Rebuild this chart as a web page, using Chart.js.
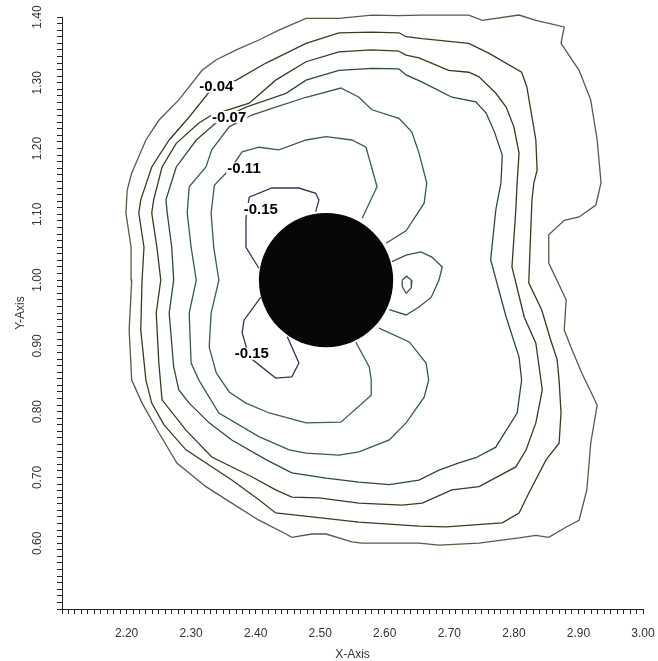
<!DOCTYPE html>
<html><head><meta charset="utf-8">
<script src="https://cdn.jsdelivr.net/npm/chart.js@4.4.1/dist/chart.umd.min.js"></script>
<style>html,body{margin:0;padding:0;background:#fff;}#wrap{width:658px;height:661px;}</style>
</head><body><div id="wrap"><canvas id="c" width="658" height="661"></canvas></div>
<script>
// Tick labels
const xTickLabels = ['2.20','2.30','2.40','2.50','2.60','2.70','2.80','2.90','3.00'];
const yTickLabels = ['0.60','0.70','0.80','0.90','1.00','1.10','1.20','1.30','1.40'];

// Contour lines [x, y] (outer -> inner)
const contourA = [[2.208,1.163],[2.230,1.213],[2.250,1.243],[2.281,1.274],[2.317,1.319],[2.339,1.335],[2.370,1.350],[2.405,1.365],[2.436,1.380],[2.478,1.398],[2.529,1.398],[2.580,1.403],[2.622,1.402],[2.658,1.403],[2.730,1.403],[2.751,1.395],[2.808,1.403],[2.834,1.395],[2.878,1.385],[2.873,1.360],[2.901,1.319],[2.919,1.274],[2.929,1.213],[2.935,1.148],[2.927,1.114],[2.901,1.096],[2.878,1.091],[2.854,1.069],[2.854,1.026],[2.881,0.970],[2.878,0.924],[2.890,0.894],[2.905,0.859],[2.929,0.810],[2.919,0.752],[2.913,0.681],[2.901,0.635],[2.882,0.625],[2.854,0.609],[2.834,0.612],[2.808,0.608],[2.746,0.600],[2.684,0.597],[2.653,0.600],[2.565,0.600],[2.549,0.602],[2.509,0.614],[2.487,0.614],[2.456,0.609],[2.447,0.614],[2.405,0.635],[2.363,0.661],[2.323,0.686],[2.278,0.722],[2.250,0.768],[2.224,0.813],[2.208,0.848],[2.204,0.924],[2.208,1.000],[2.207,1.050],[2.199,1.102],[2.201,1.137]];
const contourB = [[2.622,1.376],[2.580,1.377],[2.529,1.376],[2.478,1.360],[2.416,1.330],[2.370,1.304],[2.328,1.286],[2.297,1.248],[2.266,1.213],[2.239,1.172],[2.222,1.122],[2.219,1.102],[2.227,1.050],[2.224,1.000],[2.222,0.924],[2.230,0.848],[2.239,0.813],[2.258,0.780],[2.292,0.742],[2.363,0.696],[2.405,0.666],[2.431,0.646],[2.487,0.640],[2.560,0.632],[2.653,0.626],[2.695,0.625],[2.782,0.631],[2.808,0.646],[2.823,0.676],[2.850,0.727],[2.870,0.752],[2.873,0.798],[2.870,0.848],[2.867,0.879],[2.857,0.909],[2.843,0.955],[2.823,0.996],[2.826,1.072],[2.828,1.122],[2.831,1.148],[2.836,1.167],[2.834,1.213],[2.828,1.248],[2.820,1.294],[2.812,1.316],[2.761,1.345],[2.730,1.360],[2.658,1.367],[2.633,1.370]];
const contourC = [[2.622,1.348],[2.580,1.350],[2.529,1.347],[2.478,1.332],[2.431,1.304],[2.390,1.269],[2.332,1.251],[2.312,1.239],[2.277,1.208],[2.255,1.172],[2.242,1.122],[2.239,1.102],[2.247,1.050],[2.253,1.000],[2.246,0.950],[2.250,0.874],[2.255,0.818],[2.292,0.772],[2.332,0.731],[2.394,0.701],[2.431,0.681],[2.456,0.670],[2.498,0.669],[2.560,0.661],[2.627,0.658],[2.658,0.661],[2.704,0.681],[2.746,0.686],[2.803,0.716],[2.819,0.742],[2.834,0.783],[2.844,0.833],[2.834,0.904],[2.816,0.944],[2.797,1.020],[2.803,1.107],[2.805,1.148],[2.808,1.193],[2.800,1.233],[2.788,1.263],[2.772,1.284],[2.746,1.309],[2.730,1.316],[2.699,1.319],[2.653,1.338],[2.633,1.342]];
const contourD = [[2.622,1.321],[2.580,1.322],[2.529,1.319],[2.478,1.304],[2.447,1.284],[2.385,1.263],[2.343,1.243],[2.308,1.213],[2.277,1.172],[2.261,1.122],[2.263,1.102],[2.270,1.050],[2.273,1.000],[2.266,0.950],[2.273,0.868],[2.281,0.833],[2.297,0.813],[2.328,0.783],[2.363,0.757],[2.416,0.727],[2.456,0.707],[2.509,0.699],[2.560,0.693],[2.607,0.689],[2.653,0.696],[2.684,0.711],[2.715,0.722],[2.741,0.730],[2.772,0.746],[2.782,0.762],[2.805,0.798],[2.812,0.848],[2.808,0.883],[2.788,0.944],[2.764,1.031],[2.772,1.107],[2.780,1.148],[2.782,1.190],[2.770,1.225],[2.757,1.254],[2.741,1.271],[2.704,1.278],[2.658,1.301],[2.633,1.312]];
const contourE = [[2.602,1.056],[2.633,1.075],[2.661,1.117],[2.665,1.148],[2.653,1.193],[2.642,1.225],[2.622,1.246],[2.580,1.259],[2.560,1.278],[2.532,1.292],[2.478,1.278],[2.431,1.263],[2.394,1.251],[2.359,1.233],[2.332,1.198],[2.323,1.172],[2.297,1.142],[2.294,1.102],[2.300,1.050],[2.308,1.000],[2.297,0.950],[2.300,0.874],[2.312,0.848],[2.343,0.798],[2.405,0.762],[2.452,0.742],[2.478,0.737],[2.529,0.734],[2.560,0.739],[2.607,0.757],[2.633,0.783],[2.661,0.822],[2.668,0.848],[2.664,0.874],[2.638,0.906],[2.591,0.927]];
const contourF = [[2.565,1.094],[2.588,1.142],[2.571,1.202],[2.549,1.213],[2.509,1.218],[2.478,1.213],[2.436,1.198],[2.405,1.202],[2.379,1.195],[2.363,1.172],[2.336,1.144],[2.331,1.102],[2.335,1.050],[2.343,1.000],[2.331,0.950],[2.328,0.898],[2.339,0.859],[2.359,0.830],[2.385,0.813],[2.421,0.798],[2.478,0.783],[2.532,0.784],[2.579,0.825],[2.579,0.848],[2.576,0.868],[2.555,0.906]];
const contourG = [[2.611,1.028],[2.633,1.038],[2.656,1.043],[2.673,1.035],[2.689,1.020],[2.684,1.000],[2.672,0.974],[2.653,0.959],[2.633,0.947],[2.607,0.955]];
const contourH = [[2.627,1.000],[2.634,1.006],[2.642,0.999],[2.641,0.988],[2.633,0.980],[2.627,0.990]];
const contourTop15 = [[2.405,1.018],[2.385,1.050],[2.385,1.094],[2.390,1.126],[2.425,1.140],[2.467,1.140],[2.493,1.132],[2.498,1.122],[2.493,1.104]];
const contourBottom15 = [[2.408,0.974],[2.382,0.939],[2.379,0.920],[2.390,0.883],[2.431,0.851],[2.456,0.853],[2.467,0.874],[2.449,0.914]];

// Contour labels
const labelTexts = ['-0.04','-0.07','-0.11','-0.15','-0.15'];
const labelX = [2.339, 2.359, 2.382, 2.408, 2.394];
const labelY = [1.294, 1.248, 1.170, 1.108, 0.888];

// Solid disc (obstacle)
const discCenterX = 2.509;
const discCenterY = 1.000;
const discRadius = 0.104;

const xTickValues = Array.from({length: 91}, (_, i) => (210 + i) / 100);
const yTickValues = Array.from({length: 91}, (_, i) => (50 + i) / 100);
const labelFor = (v, labels) => { const s = Number(v).toFixed(2); return labels.includes(s) ? s : ''; };

const toPts = (arr, closed) => (closed ? arr.concat([arr[0]]) : arr).map(([x, y]) => ({x, y}));
const lineDs = (arr, color, closed) => ({
  type: 'scatter', data: toPts(arr, closed), showLine: true, borderColor: color,
  borderWidth: 1.3, pointRadius: 0, pointHoverRadius: 0, fill: false, tension: 0, clip: false
});

const discRadiusPx = (ctx) => {
  const s = ctx.chart.scales.x;
  return Math.abs(s.getPixelForValue(discCenterX + discRadius) - s.getPixelForValue(discCenterX));
};

const contourLabelPlugin = {
  id: 'contourLabels',
  afterDatasetsDraw(chart) {
    const {ctx, scales: {x, y}} = chart;
    ctx.save();
    ctx.font = 'bold 15px "Liberation Sans", Arial, sans-serif';
    ctx.textAlign = 'center';
    ctx.textBaseline = 'middle';
    labelTexts.forEach((t, i) => {
      const px = x.getPixelForValue(labelX[i]);
      const py = y.getPixelForValue(labelY[i]);
      const w = ctx.measureText(t).width;
      ctx.fillStyle = '#fff';
      ctx.fillRect(px - w / 2 - 1, py - 6, w + 2, 12);
      ctx.fillStyle = '#000';
      ctx.fillText(t, px, py + 0.5);
    });
    ctx.restore();
  }
};

new Chart(document.getElementById('c'), {
  type: 'scatter',
  data: {
    datasets: [
      { type: 'scatter', data: [{x: discCenterX, y: discCenterY}], pointRadius: discRadiusPx, pointHoverRadius: discRadiusPx,
        backgroundColor: '#070707', borderColor: '#070707', borderWidth: 0, clip: false },
      lineDs(contourTop15, '#2c3658', false),
      lineDs(contourBottom15, '#2c3658', false),
      lineDs(contourH, '#3b5846', true),
      lineDs(contourG, '#2f5745', false),
      lineDs(contourF, '#3a5c56', false),
      lineDs(contourE, '#345c48', false),
      lineDs(contourD, '#2c4c30', true),
      lineDs(contourC, '#2d4020', true),
      lineDs(contourB, '#3c3a20', true),
      lineDs(contourA, '#5e5545', true)
    ]
  },
  options: {
    responsive: false,
    animation: false,
    events: [],
    layout: {padding: {top: 17, right: 15, bottom: 0, left: 0}},
    plugins: {legend: {display: false}, tooltip: {enabled: false}},
    scales: {
      x: {
        type: 'linear', min: 2.10, max: 3.00, position: 'bottom',
        afterBuildTicks: s => { s.ticks = xTickValues.map(v => ({value: v})); },
        afterFit: s => { s.height = 52; },
        ticks: {autoSkip: false, minRotation: 0, maxRotation: 0, padding: 2, color: '#333',
          font: {family: '"Liberation Sans", Arial, sans-serif', size: 12, lineHeight: 3},
          callback: v => labelFor(v, xTickLabels)},
        grid: {drawOnChartArea: false, drawTicks: true, tickLength: 5, color: '#222'},
        border: {display: true, color: '#222', width: 1},
        title: {display: true, text: 'X-Axis', color: '#333',
          font: {family: '"Liberation Sans", Arial, sans-serif', size: 12, lineHeight: 1}, padding: {top: 0, bottom: 0}}
      },
      y: {
        type: 'linear', min: 0.50, max: 1.40, position: 'left',
        afterBuildTicks: s => { s.ticks = yTickValues.map(v => ({value: v})); },
        afterFit: s => { s.width = 62; },
        ticks: {autoSkip: false, minRotation: 90, maxRotation: 90, crossAlign: 'center', padding: 8, color: '#333',
          font: {family: '"Liberation Sans", Arial, sans-serif', size: 12},
          callback: v => labelFor(v, yTickLabels)},
        grid: {drawOnChartArea: false, drawTicks: true, tickLength: 5, color: '#222'},
        border: {display: true, color: '#222', width: 1},
        title: {display: true, text: 'Y-Axis', color: '#333',
          font: {family: '"Liberation Sans", Arial, sans-serif', size: 12}, padding: {top: 13, bottom: 0}}
      }
    }
  },
  plugins: [contourLabelPlugin]
});
</script>
</body></html>
